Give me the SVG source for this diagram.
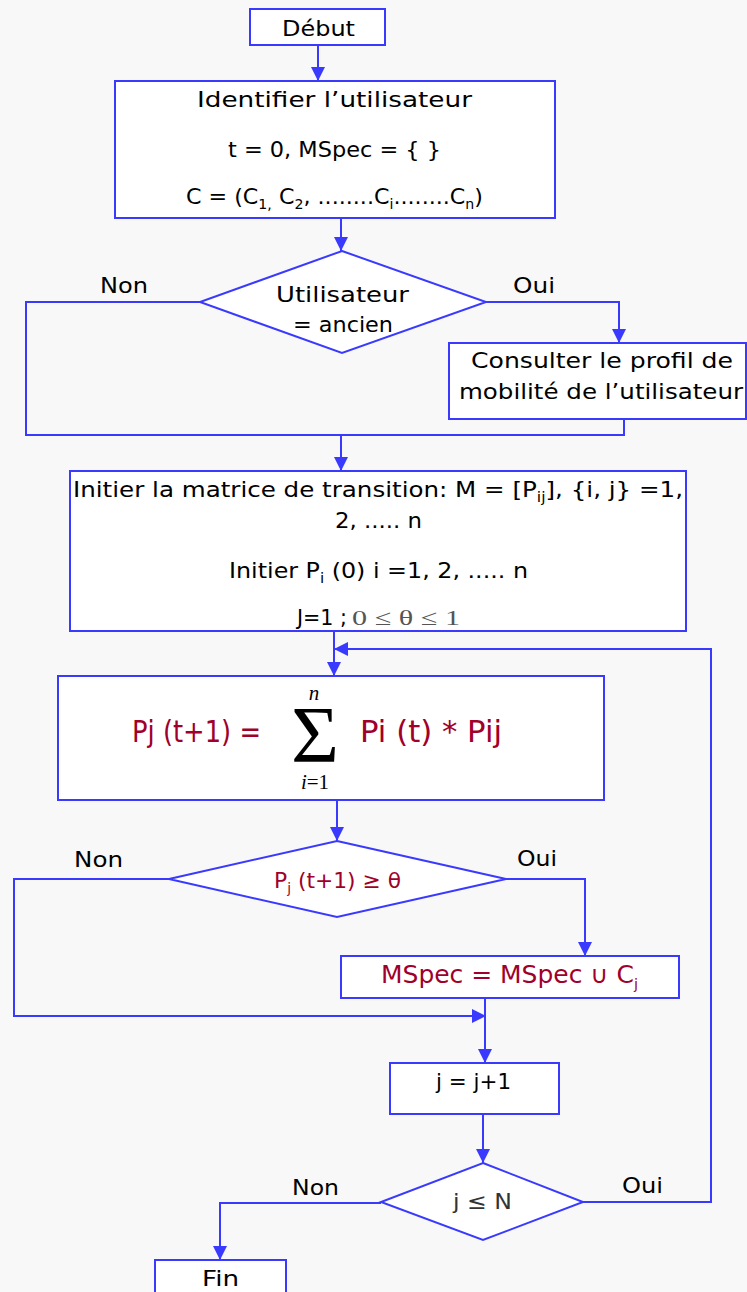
<svg xmlns="http://www.w3.org/2000/svg" width="747" height="1292" viewBox="0 0 747 1292">
<style>
.bg{fill:#f8f8f8}
.node{fill:#ffffff;stroke:#3a3aff;stroke-width:2}
.edge{fill:none;stroke:#3a3aff;stroke-width:2}
.t{font-family:"DejaVu Sans","Liberation Sans",sans-serif;font-size:22px;fill:#000}
.lbl{font-family:"DejaVu Sans","Liberation Sans",sans-serif;font-size:22px;fill:#000}
.red{fill:#a0002a}
.sub{font-size:14px}
.ser{font-family:"Liberation Serif","DejaVu Serif",serif}
</style>
<defs>
<marker id="arr" markerUnits="userSpaceOnUse" markerWidth="14" markerHeight="14" refX="14" refY="7" orient="auto">
<path d="M0,0 L14,7 L0,14 z" fill="#3a3aff"/>
</marker>
</defs>
<rect class="bg" x="0" y="0" width="747" height="1292"/>

<g id="connectors">
<path class="edge" d="M318,45 V81" marker-end="url(#arr)"/>
<path class="edge" d="M341,218 V251" marker-end="url(#arr)"/>
<path class="edge" d="M486,302 H619 V343" marker-end="url(#arr)"/>
<path class="edge" d="M200,302 H26 V435 H624 V419"/>
<path class="edge" d="M341,435 V471" marker-end="url(#arr)"/>
<path class="edge" d="M334,631 V676" marker-end="url(#arr)"/>
<path class="edge" d="M583,1202 H711 V649 H334" marker-end="url(#arr)"/>
<path class="edge" d="M337,800 V841" marker-end="url(#arr)"/>
<path class="edge" d="M506,879 H585 V956" marker-end="url(#arr)"/>
<path class="edge" d="M169,879 H14 V1016 H486" marker-end="url(#arr)"/>
<path class="edge" d="M485,998 V1063" marker-end="url(#arr)"/>
<path class="edge" d="M483,1114 V1163" marker-end="url(#arr)"/>
<path class="edge" d="M381,1203 H220 V1260" marker-end="url(#arr)"/>
<text class="lbl" x="100" y="293" textLength="48" lengthAdjust="spacingAndGlyphs">Non</text>
<text class="lbl" x="513" y="293" textLength="42" lengthAdjust="spacingAndGlyphs">Oui</text>
<text class="lbl" x="74" y="867" textLength="49" lengthAdjust="spacingAndGlyphs">Non</text>
<text class="lbl" x="517" y="866" textLength="40" lengthAdjust="spacingAndGlyphs">Oui</text>
<text class="lbl" x="292" y="1195" textLength="47" lengthAdjust="spacingAndGlyphs">Non</text>
<text class="lbl" x="622" y="1193" textLength="41" lengthAdjust="spacingAndGlyphs">Oui</text>
</g>

<g id="debut">
<rect class="node" x="250" y="9" width="135" height="36"/>
<text class="t" x="282" y="36" textLength="73" lengthAdjust="spacingAndGlyphs">Début</text>
</g>

<g id="init-user">
<rect class="node" x="115" y="81" width="440" height="137"/>
<text class="t" x="197" y="107" textLength="275" lengthAdjust="spacingAndGlyphs">Identifier l’utilisateur</text>
<text class="t" x="228" y="157" textLength="213" lengthAdjust="spacingAndGlyphs">t = 0, MSpec = { }</text>
<text class="t" x="186" y="204" textLength="297" lengthAdjust="spacingAndGlyphs">C = (C<tspan class="sub" dy="5">1,</tspan><tspan dy="-5"> C</tspan><tspan class="sub" dy="5">2</tspan><tspan dy="-5">, ........C</tspan><tspan class="sub" dy="5">i</tspan><tspan dy="-5">........C</tspan><tspan class="sub" dy="5">n</tspan><tspan dy="-5">)</tspan></text>
</g>

<g id="decision-ancien">
<polygon class="node" points="342,251 486,302 342,353 200,302"/>
<text class="t" x="276" y="302" textLength="133" lengthAdjust="spacingAndGlyphs">Utilisateur</text>
<text class="t" x="293" y="332" textLength="100" lengthAdjust="spacingAndGlyphs">= ancien</text>
</g>

<g id="consulter">
<rect class="node" x="449" y="343" width="297" height="76"/>
<text class="t" x="471" y="368" textLength="262" lengthAdjust="spacingAndGlyphs">Consulter le profil de</text>
<text class="t" x="459" y="399" textLength="284" lengthAdjust="spacingAndGlyphs">mobilité de l’utilisateur</text>
</g>

<g id="init-matrice">
<rect class="node" x="70" y="471" width="616" height="160"/>
<text class="t" x="73" y="497" textLength="610" lengthAdjust="spacingAndGlyphs">Initier la matrice de transition: M = [P<tspan class="sub" dy="5">ij</tspan><tspan dy="-5">], {i, j} =1,</tspan></text>
<text class="t" x="335" y="528" textLength="87" lengthAdjust="spacingAndGlyphs">2, ..... n</text>
<text class="t" x="229" y="578" textLength="299" lengthAdjust="spacingAndGlyphs">Initier P<tspan class="sub" dy="5">i</tspan><tspan dy="-5"> (0) i =1, 2, ..... n</tspan></text>
<text class="t" x="297" y="625" textLength="50" lengthAdjust="spacingAndGlyphs">J=1 ;</text>
<text class="ser" x="352" y="625" font-size="22" fill="#555" textLength="108" lengthAdjust="spacingAndGlyphs">0 ≤ θ ≤ 1</text>
</g>

<g id="formule">
<rect class="node" x="58" y="676" width="546" height="124"/>
<text class="t red" x="132" y="742" textLength="129" lengthAdjust="spacingAndGlyphs" style="font-size:30px">Pj (t+1) =</text>
<text class="ser" x="291" y="762" font-size="80" fill="#000" textLength="48" lengthAdjust="spacingAndGlyphs">Σ</text>
<text class="ser" x="314" y="700" font-size="21" font-style="italic" fill="#000" text-anchor="middle">n</text>
<text class="ser" x="315" y="789" font-size="21" fill="#000" text-anchor="middle"><tspan font-style="italic">i</tspan>=1</text>
<text class="t red" x="360" y="742" textLength="142" lengthAdjust="spacingAndGlyphs" style="font-size:30px">Pi (t) * Pij</text>
</g>

<g id="decision-seuil">
<polygon class="node" points="337,841 506,879 337,917 169,879"/>
<text class="t red" x="274" y="888" textLength="127" lengthAdjust="spacingAndGlyphs">P<tspan class="sub" dy="5">j</tspan><tspan dy="-5"> (t+1) ≥ θ</tspan></text>
</g>

<g id="mspec">
<rect class="node" x="341" y="956" width="338" height="42"/>
<text class="t red" x="381" y="983" textLength="257" lengthAdjust="spacingAndGlyphs" style="font-size:24px">MSpec = MSpec ∪ C<tspan class="sub" dy="6">j</tspan></text>
</g>

<g id="increment">
<rect class="node" x="390" y="1063" width="169" height="51"/>
<text class="t" x="436" y="1089" textLength="75" lengthAdjust="spacingAndGlyphs">j = j+1</text>
</g>

<g id="decision-fin">
<polygon class="node" points="483,1163 583,1202 483,1240 381,1202"/>
<text class="t" x="453" y="1209" textLength="59" lengthAdjust="spacingAndGlyphs" style="fill:#333">j ≤ N</text>
</g>

<g id="fin">
<rect class="node" x="155" y="1260" width="131" height="40"/>
<text class="t" x="202" y="1286" textLength="37" lengthAdjust="spacingAndGlyphs">Fin</text>
</g>
</svg>
